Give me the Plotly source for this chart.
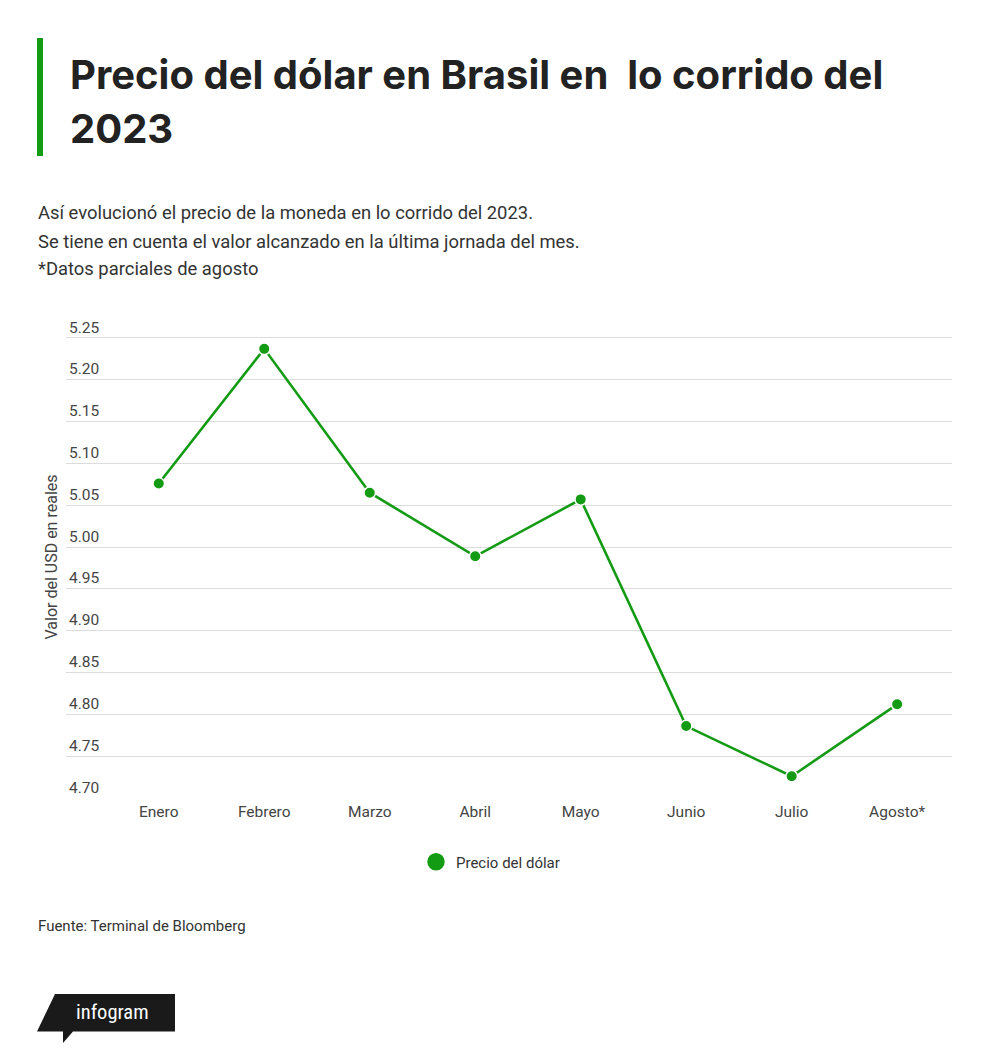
import plotly.graph_objects as go

months = ["Enero", "Febrero", "Marzo", "Abril", "Mayo", "Junio", "Julio", "Agosto*"]
prices = [5.076, 5.237, 5.065, 4.989, 5.057, 4.786, 4.726, 4.812]
y_ticks = [4.70, 4.75, 4.80, 4.85, 4.90, 4.95, 5.00, 5.05, 5.10, 5.15, 5.20, 5.25]
series_name = "Precio del dólar"

GREEN = "#149b14"
OFF = 8  # page body margin of the html page
W, H = 1000 - OFF, 1063 - OFF
# plot area in page pixels
P_LEFT, P_RIGHT, P_TOP, P_BOTTOM = 66, 952, 316, 798
L, R = P_LEFT - OFF, W - (P_RIGHT - OFF)
T, B = P_TOP - OFF, H - (P_BOTTOM - OFF)
PW, PH = P_RIGHT - P_LEFT, P_BOTTOM - P_TOP
Y_MIN = 4.70
Y_MAX = Y_MIN + (P_BOTTOM - P_TOP) / 836.4
X_LO = -0.87 - 1 / 105.6
X_HI = 7.52


def px(x):
    return (x - P_LEFT) / PW


def py(y):
    return (P_BOTTOM - y) / PH


fig = go.Figure()
fig.add_trace(go.Scatter(
    x=months, y=prices, mode="lines+markers", showlegend=False,
    line=dict(color=GREEN, width=2.6),
    marker=dict(size=11.5, color=GREEN, line=dict(color="white", width=1.5)),
))
fig.add_trace(go.Scatter(
    x=[None], y=[None], mode="markers", name=series_name,
    marker=dict(size=16, color=GREEN, line=dict(color=GREEN, width=1.5)),
))

font_body = "Roboto, Inter, sans-serif"
title_font = dict(family="Inter, Roboto, sans-serif", size=40, color="#222222")
sub_font = dict(family=font_body, size=18.4, color="#333333")

annotations = [
    dict(text="<b>Precio del dólar en Brasil en  lo corrido del</b>",
         x=px(68), y=py(48), xref="paper", yref="paper", xanchor="left", yanchor="top",
         align="left", showarrow=False, font=title_font),
    dict(text="<b>2023</b>",
         x=px(68), y=py(102), xref="paper", yref="paper", xanchor="left", yanchor="top",
         align="left", showarrow=False, font=title_font),
    dict(text="Así evolucionó el precio de la moneda en lo corrido del 2023.",
         x=px(36), y=py(212), xref="paper", yref="paper", xanchor="left", yanchor="middle",
         showarrow=False, font=sub_font),
    dict(text="Se tiene en cuenta el valor alcanzado en la última jornada del mes.",
         x=px(36), y=py(241), xref="paper", yref="paper", xanchor="left", yanchor="middle",
         showarrow=False, font=sub_font),
    dict(text="*Datos parciales de agosto",
         x=px(36), y=py(269), xref="paper", yref="paper", xanchor="left", yanchor="middle",
         showarrow=False, font=sub_font),
    dict(text="Fuente: Terminal de Bloomberg",
         x=px(36), y=py(926), xref="paper", yref="paper", xanchor="left", yanchor="middle",
         showarrow=False, font=dict(family=font_body, size=15, color="#333333")),
    dict(text="infogram",
         x=px(112), y=py(1012), xref="paper", yref="paper", xanchor="center", yanchor="middle",
         showarrow=False, font=dict(family="Roboto Condensed, Roboto, sans-serif", size=20.5, color="white")),
]

logo_pts = [(55, 994), (175, 994), (175, 1031.5), (73, 1031.5), (63, 1043), (63, 1031.5), (37, 1031.5)]
logo_path = "M " + " L ".join(f"{px(a):.5f},{py(b):.5f}" for a, b in logo_pts) + " Z"

shapes = [
    dict(type="rect", xref="paper", yref="paper", x0=px(37), x1=px(43), y0=py(38), y1=py(156),
         fillcolor=GREEN, line=dict(width=0), layer="above"),
    dict(type="path", xref="paper", yref="paper", path=logo_path,
         fillcolor="#1a1a1a", line=dict(width=0), layer="above"),
]

fig.update_layout(
    width=W, height=H,
    margin=dict(l=L, r=R, t=T, b=B, autoexpand=False),
    paper_bgcolor="white", plot_bgcolor="white",
    font=dict(family=font_body, size=15.5, color="#444444"),
    showlegend=True,
    legend=dict(orientation="h", x=px(416), y=py(862), xanchor="left", yanchor="middle",
                font=dict(size=15, color="#333333"), itemsizing="trace"),
    annotations=annotations,
    shapes=shapes,
    xaxis=dict(
        type="category", range=[X_LO, X_HI], showgrid=False, showline=False, zeroline=False,
        ticks="", tickfont=dict(size=15.5, color="#444444"), ticklabelstandoff=2,
    ),
    yaxis=dict(
        range=[Y_MIN, Y_MAX], tickvals=y_ticks, ticktext=[f"{v:.2f}" for v in y_ticks],
        ticklabelposition="inside top", showgrid=True, gridcolor="#dcdcdc", gridwidth=1,
        zeroline=False, showline=False, ticks="",
        tickfont=dict(size=15.5, color="#444444"),
        title=dict(text="Valor del USD en reales", standoff=7,
                   font=dict(size=16, color="#444444")),
    ),
)

fig.write_html("out.html")
